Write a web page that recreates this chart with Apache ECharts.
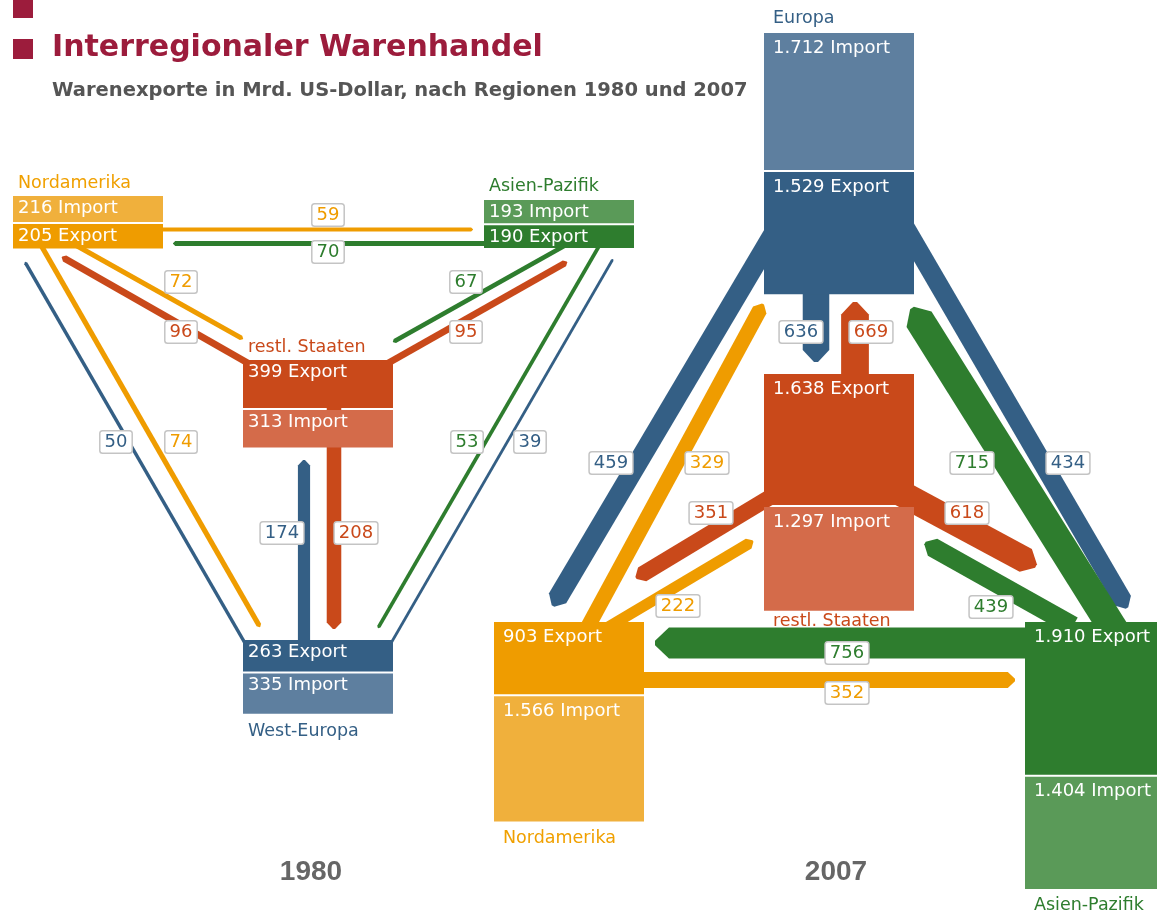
<!DOCTYPE html>
<html>
<head>
<meta charset="utf-8">
<title>Interregionaler Warenhandel</title>
<script src="https://cdn.jsdelivr.net/npm/echarts@6/dist/echarts.min.js"></script>
<style>
    html, body { margin: 0; padding: 0; background: #fff; }
    #main { width: 1157px; height: 917px; }
</style>
</head>
<body>
<div id="main"></div>
<script>
// Warenexporte in Mrd. US-Dollar
var regions1980 = ['Nordamerika', 'Asien-Pazifik', 'restl. Staaten', 'West-Europa'];
var exports1980 = [205, 190, 399, 263];
var imports1980 = [216, 193, 313, 335];

var regions2007 = ['Europa', 'restl. Staaten', 'Nordamerika', 'Asien-Pazifik'];
var exports2007 = [1529, 1638, 903, 1910];
var imports2007 = [1712, 1297, 1566, 1404];

// [von, nach, Wert]
var flows1980 = [
    ['Nordamerika', 'Asien-Pazifik', 59],
    ['Asien-Pazifik', 'Nordamerika', 70],
    ['Nordamerika', 'restl. Staaten', 72],
    ['restl. Staaten', 'Nordamerika', 96],
    ['Nordamerika', 'West-Europa', 74],
    ['West-Europa', 'Nordamerika', 50],
    ['Asien-Pazifik', 'restl. Staaten', 67],
    ['restl. Staaten', 'Asien-Pazifik', 95],
    ['Asien-Pazifik', 'West-Europa', 53],
    ['West-Europa', 'Asien-Pazifik', 39],
    ['West-Europa', 'restl. Staaten', 174],
    ['restl. Staaten', 'West-Europa', 208]
];
var flows2007 = [
    ['Europa', 'Nordamerika', 459],
    ['Europa', 'Asien-Pazifik', 434],
    ['Europa', 'restl. Staaten', 636],
    ['restl. Staaten', 'Europa', 669],
    ['restl. Staaten', 'Nordamerika', 351],
    ['restl. Staaten', 'Asien-Pazifik', 618],
    ['Nordamerika', 'Europa', 329],
    ['Nordamerika', 'restl. Staaten', 222],
    ['Nordamerika', 'Asien-Pazifik', 352],
    ['Asien-Pazifik', 'Europa', 715],
    ['Asien-Pazifik', 'restl. Staaten', 439],
    ['Asien-Pazifik', 'Nordamerika', 756]
];

var years = ['1980', '2007'];

// ---- Gestaltung ----
var colors = {
    'Nordamerika':    { exp: '#ef9c00', imp: '#f0b03c', text: '#f0a000' },
    'Asien-Pazifik':  { exp: '#2e7d2e', imp: '#5a9a58', text: '#2e7d2e' },
    'restl. Staaten': { exp: '#c9491a', imp: '#d46b4a', text: '#c9491a' },
    'West-Europa':    { exp: '#345f85', imp: '#5e7f9f', text: '#345f85' },
    'Europa':         { exp: '#345f85', imp: '#5e7f9f', text: '#345f85' }
};
var BOX_W = 150;
var FONT = '"DejaVu Sans", Verdana, sans-serif';

var nodeLayout1980 = {
    'Nordamerika':    { x: 13,  y: 196, order: ['imp', 'exp'], labelY: -13 },
    'Asien-Pazifik':  { x: 484, y: 200, order: ['imp', 'exp'], labelY: -14 },
    'restl. Staaten': { x: 243, y: 360, order: ['exp', 'imp'], labelY: -13 },
    'West-Europa':    { x: 243, y: 640, order: ['exp', 'imp'], labelY: 18 }
};
var nodeLayout2007 = {
    'Europa':         { x: 764,  y: 33,  order: ['imp', 'exp'], labelY: -15 },
    'restl. Staaten': { x: 764,  y: 374, order: ['exp', 'imp'], labelY: 11 },
    'Nordamerika':    { x: 494,  y: 622, order: ['exp', 'imp'], labelY: 17 },
    'Asien-Pazifik':  { x: 1025, y: 622, order: ['exp', 'imp'], labelY: 16 }
};

// s = Start (im Exportkasten), e = Pfeilspitze, l = Wertelabel
var flowLayout1980 = {
    'Nordamerika|Asien-Pazifik':     { s: [150, 229.5], e: [473, 229.5], l: [328, 215] },
    'Asien-Pazifik|Nordamerika':     { s: [500, 243.5], e: [173, 243.5], l: [328, 252] },
    'Nordamerika|restl. Staaten':    { s: [70, 242],   e: [243, 339],   l: [181, 282] },
    'restl. Staaten|Nordamerika':    { s: [260, 370],  e: [62, 257],    l: [181, 332] },
    'Nordamerika|West-Europa':       { s: [38, 240],   e: [260, 627],   l: [181, 442] },
    'West-Europa|Nordamerika':       { s: [253, 657],  e: [25, 262],    l: [116, 442] },
    'Asien-Pazifik|restl. Staaten':  { s: [573, 241],  e: [393, 342],   l: [466, 282] },
    'restl. Staaten|Asien-Pazifik':  { s: [376, 370],  e: [567, 262],   l: [466, 332] },
    'Asien-Pazifik|West-Europa':     { s: [602, 241],  e: [378, 628],   l: [467, 442] },
    'West-Europa|Asien-Pazifik':     { s: [383, 657],  e: [613, 259],   l: [530, 442] },
    'West-Europa|restl. Staaten':    { s: [304, 660],  e: [304, 460],   l: [282, 533] },
    'restl. Staaten|West-Europa':    { s: [334, 380],  e: [334, 629],   l: [356, 533] }
};
var flowLayout2007 = {
    'Europa|Nordamerika':            { s: [778, 226],  e: [553, 606],   l: [611, 463] },
    'Europa|Asien-Pazifik':          { s: [901, 220],  e: [1127, 608],  l: [1068, 463] },
    'Europa|restl. Staaten':         { s: [816, 280],  e: [816, 362],   l: [801, 332] },
    'restl. Staaten|Europa':         { s: [855, 395],  e: [855, 302],   l: [871, 332] },
    'restl. Staaten|Nordamerika':    { s: [782, 490],  e: [636, 578],   l: [711, 513] },
    'restl. Staaten|Asien-Pazifik':  { s: [895, 490],  e: [1036, 566],  l: [967, 513] },
    'Nordamerika|Europa':            { s: [585, 632],  e: [763, 304],   l: [707, 463] },
    'Nordamerika|restl. Staaten':    { s: [600, 632],  e: [753, 541],   l: [678, 606] },
    'Nordamerika|Asien-Pazifik':     { s: [630, 680],  e: [1015, 680],  l: [847, 693] },
    'Asien-Pazifik|Europa':          { s: [1119, 638], e: [912, 308],   l: [972, 463] },
    'Asien-Pazifik|restl. Staaten':  { s: [1073, 626], e: [925, 543],   l: [991, 607] },
    'Asien-Pazifik|Nordamerika':     { s: [1040, 643], e: [655, 643],   l: [847, 653] }
};

// Kastenhöhe je Mrd. US-Dollar, Strombreite je Mrd. US-Dollar
var boxScale1980 = 0.12, boxScale2007 = 0.08;
function width1980(v) { return Math.max(0.07 * v, 2.5); }
function width2007(v) { return 3 + 0.037 * v; }

function fmt(v) {
    if (v >= 1000) {
        var r = String(v % 1000);
        while (r.length < 3) r = '0' + r;
        return Math.floor(v / 1000) + '.' + r;
    }
    return String(v);
}

function buildNodes(regions, exps, imps, layout, k, padX, padY) {
    return regions.map(function (r, i) {
        return { name: r, exp: exps[i], imp: imps[i], layout: layout[r], k: k, padX: padX, padY: padY };
    });
}
var nodes1980 = buildNodes(regions1980, exports1980, imports1980, nodeLayout1980, boxScale1980, 5, 3);
var nodes2007 = buildNodes(regions2007, exports2007, imports2007, nodeLayout2007, boxScale2007, 9, 6);

function nodeRenderer(nodes) {
    return function (params, api) {
        var n = nodes[params.dataIndex];
        var L = n.layout;
        var children = [];
        var yCur = L.y;
        L.order.forEach(function (kind) {
            var amount = kind === 'exp' ? n.exp : n.imp;
            var p0 = api.coord([L.x, yCur]);
            var p1 = api.coord([L.x + BOX_W, yCur + amount * n.k]);
            children.push({
                type: 'rect',
                shape: { x: p0[0], y: p0[1], width: p1[0] - p0[0], height: p1[1] - p0[1] },
                style: { fill: colors[n.name][kind] }
            });
            children.push({
                type: 'text',
                z2: 5,
                style: {
                    text: fmt(amount) + (kind === 'exp' ? ' Export' : ' Import'),
                    x: p0[0] + n.padX,
                    y: p0[1] + n.padY,
                    fill: '#fff',
                    font: '18px ' + FONT,
                    verticalAlign: 'top'
                }
            });
            yCur += amount * n.k + 2;
        });
        var ly = L.labelY < 0 ? L.y + L.labelY : yCur - 2 + L.labelY;
        var pl = api.coord([L.x + n.padX, ly]);
        children.push({
            type: 'text',
            style: {
                text: n.name,
                x: pl[0],
                y: pl[1],
                fill: colors[n.name].text,
                font: '17.5px ' + FONT,
                verticalAlign: 'middle'
            }
        });
        return { type: 'group', children: children };
    };
}

function flowRenderer(list, layout, widthOf) {
    return function (params, api) {
        var f = list[params.dataIndex];
        var L = layout[f[0] + '|' + f[1]];
        var a = api.coord(L.s), b = api.coord(L.e);
        var w = api.size([widthOf(f[2]), 0])[0];
        var dx = b[0] - a[0], dy = b[1] - a[1];
        var len = Math.sqrt(dx * dx + dy * dy);
        var ux = dx / len, uy = dy / len, nx = -uy, ny = ux;
        var h = w / 2, tl = Math.max(w * 0.45, 1.5);
        var c = [b[0] - ux * tl, b[1] - uy * tl];
        var pts = [
            [a[0] + nx * h, a[1] + ny * h],
            [c[0] + nx * h, c[1] + ny * h],
            [b[0] + nx * h * 0.15, b[1] + ny * h * 0.15],
            [b[0] - nx * h * 0.15, b[1] - ny * h * 0.15],
            [c[0] - nx * h, c[1] - ny * h],
            [a[0] - nx * h, a[1] - ny * h]
        ];
        return { type: 'polygon', shape: { points: pts }, style: { fill: colors[f[0]].exp } };
    };
}

function labelRenderer(list, layout) {
    return function (params, api) {
        var f = list[params.dataIndex];
        var L = layout[f[0] + '|' + f[1]];
        var p = api.coord(L.l);
        return {
            type: 'text',
            style: {
                text: fmt(f[2]),
                x: p[0],
                y: p[1],
                align: 'center',
                verticalAlign: 'middle',
                fill: colors[f[0]].exp,
                font: '18px ' + FONT,
                backgroundColor: '#fff',
                borderColor: '#c4c4c4',
                borderWidth: 1.5,
                borderRadius: 2,
                padding: [2, 4, 1, 4]
            }
        };
    };
}

function flowData(list, layout) {
    return list.map(function (f) {
        var L = layout[f[0] + '|' + f[1]];
        return [L.s[0], L.s[1], f[2]];
    });
}
function nodeData(nodes) {
    return nodes.map(function (n) { return [n.layout.x, n.layout.y, n.exp, n.imp]; });
}

var myChart = echarts.init(document.getElementById('main'));
var option = {
    animation: false,
    backgroundColor: '#fff',
    grid: { left: 0, right: 0, top: 0, bottom: 0 },
    xAxis: { type: 'value', min: 0, max: 1157, show: false },
    yAxis: { type: 'value', min: 0, max: 917, inverse: true, show: false },
    graphic: [
        { type: 'rect', shape: { x: 13, y: 0, width: 20, height: 18 }, style: { fill: '#9c1c3c' } },
        { type: 'rect', shape: { x: 13, y: 39, width: 20, height: 20 }, style: { fill: '#9c1c3c' } },
        {
            type: 'text', x: 52, y: 48,
            style: { text: 'Interregionaler Warenhandel', font: 'bold 30px ' + FONT, fill: '#9c1c3c', verticalAlign: 'middle' }
        },
        {
            type: 'text', x: 52, y: 91,
            style: { text: 'Warenexporte in Mrd. US-Dollar, nach Regionen 1980 und 2007', font: 'bold 19.5px ' + FONT, fill: '#555', verticalAlign: 'middle' }
        },
        {
            type: 'text', x: 311, y: 872,
            style: { text: years[0], font: 'bold 28px "Liberation Sans", Arial, sans-serif', fill: '#666', align: 'center', verticalAlign: 'middle' }
        },
        {
            type: 'text', x: 836, y: 872,
            style: { text: years[1], font: 'bold 28px "Liberation Sans", Arial, sans-serif', fill: '#666', align: 'center', verticalAlign: 'middle' }
        }
    ],
    series: [
        { type: 'custom', name: 'Ströme 1980', z: 1, renderItem: flowRenderer(flows1980, flowLayout1980, width1980), data: flowData(flows1980, flowLayout1980), encode: { x: 0, y: 1 } },
        { type: 'custom', name: 'Ströme 2007', z: 1, renderItem: flowRenderer(flows2007, flowLayout2007, width2007), data: flowData(flows2007, flowLayout2007), encode: { x: 0, y: 1 } },
        { type: 'custom', name: 'Regionen 1980', z: 2, renderItem: nodeRenderer(nodes1980), data: nodeData(nodes1980), encode: { x: 0, y: 1 } },
        { type: 'custom', name: 'Regionen 2007', z: 2, renderItem: nodeRenderer(nodes2007), data: nodeData(nodes2007), encode: { x: 0, y: 1 } },
        { type: 'custom', name: 'Werte 1980', z: 3, renderItem: labelRenderer(flows1980, flowLayout1980), data: flowData(flows1980, flowLayout1980), encode: { x: 0, y: 1 } },
        { type: 'custom', name: 'Werte 2007', z: 3, renderItem: labelRenderer(flows2007, flowLayout2007), data: flowData(flows2007, flowLayout2007), encode: { x: 0, y: 1 } }
    ]
};
option && myChart.setOption(option);
</script>
</body>
</html>
